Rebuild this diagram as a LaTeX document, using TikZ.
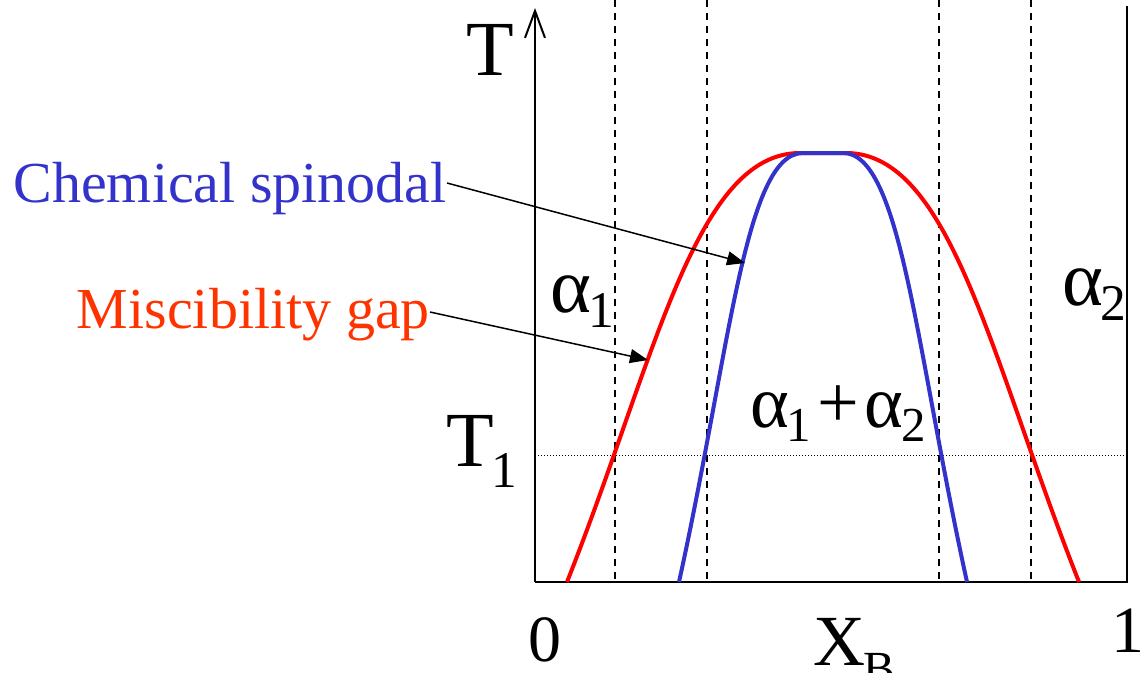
\documentclass[tikz,border=0pt]{standalone}
\usepackage{fontspec}
\setmainfont{Liberation Serif}
\usetikzlibrary{arrows.meta,positioning}
\definecolor{spinblue}{RGB}{51,51,204}
\definecolor{gapred}{RGB}{255,51,0}
\newcommand{\dn}[2][.27em]{\kern-.03em\raisebox{-#1}{\scalebox{.66}{#2}}}

\begin{document}
\begin{tikzpicture}[x=1pt,y=-1pt,
    axis/.style={line width=2pt},
    guide/.style={line width=1.6pt, dash pattern=on 7pt off 6pt},
    curve/.style={line width=4pt},
    pointer/.style={line width=1.5pt,-{Triangle[length=18pt,width=14pt]}},
    big/.style={font=\fontsize{78}{80}\selectfont, inner sep=0pt},
    num/.style={font=\fontsize{66}{68}\selectfont, inner sep=0pt},
    phase/.style={font=\fontsize{78}{80}\selectfont, inner sep=0pt},
    tag/.style={font=\fontsize{58}{60}\selectfont, inner sep=0pt}]
  \useasboundingbox (0,0) rectangle (1140,672);
  % Define points
  \coordinate (O) at (535,582);
  \coordinate (Xend) at (1127,582);
  \coordinate (Rtop) at (1127,6);
  \coordinate (Ttop) at (535,8);
  \coordinate (gapL) at (567,582);
  \coordinate (gapR) at (1079,582);
  \coordinate (gapTL) at (800,153);
  \coordinate (gapTR) at (846,153);
  \coordinate (spL) at (679,582);
  \coordinate (spR) at (967,582);
  \coordinate (flatL) at (803,153);
  \coordinate (flatR) at (843,153);
  % Guide lines
  \foreach \x in {615,707,939,1031}
    \draw[guide] (\x,0) -- (\x,582);
  \draw[dotted, line width=1pt] (535,455) -- (1127,455);
  % Axes
  \draw[axis] (O) -- (Xend) -- (Rtop);
  \draw[axis,-{Straight Barb[length=27pt,width=20pt]}] (O) -- (Ttop);
  % Curves
  \draw[curve,red] (gapL) .. controls (655,360) and (695,153) .. (gapTL)
    -- (gapTR) .. controls (951,153) and (991,360) .. (gapR);
  \draw[curve,spinblue] (spL) .. controls (730,350) and (745,153) .. (flatL)
    -- (flatR) .. controls (901,153) and (916,350) .. (spR);
  % Labels
  \node[big, anchor=base] (T) at (490,75) {T};
  \node[big, anchor=base west] (T1) at (446,466) {T\dn{1}};
  \node[num, anchor=base] (zero) at (545,661) {0};
  \node[num, anchor=base] (one) at (1128,652) {1};
  \node[num, font=\fontsize{72}{74}\selectfont, anchor=base west] (XB) at (813,665) {X\dn{B}};
  \node[phase, anchor=base west] (a1) at (550,312) {α\dn[.2em]{1}};
  \node[phase, anchor=base west] (a2) at (1062,305) {α\dn[.2em]{2}};
  \node[phase, font=\fontsize{74}{76}\selectfont, anchor=base west] (a12) at (750,427) {α\dn[.2em]{1}\kern.08em+\kern.08emα\dn[.2em]{2}};
  \node[tag, text=spinblue, anchor=base east] (spinodal) at (447,202) {Chemical spinodal};
  \node[tag, text=gapred, anchor=base east] (gap) at (430,328) {Miscibility gap};
  % Pointers
  \coordinate (spinpt) at (745,263);
  \coordinate (gappt) at (648,360);
  \draw[pointer] (spinodal.east |- 0,183) -- (spinpt);
  \draw[pointer] (gap.east |- 0,312) -- (gappt);
\end{tikzpicture}
\end{document}
